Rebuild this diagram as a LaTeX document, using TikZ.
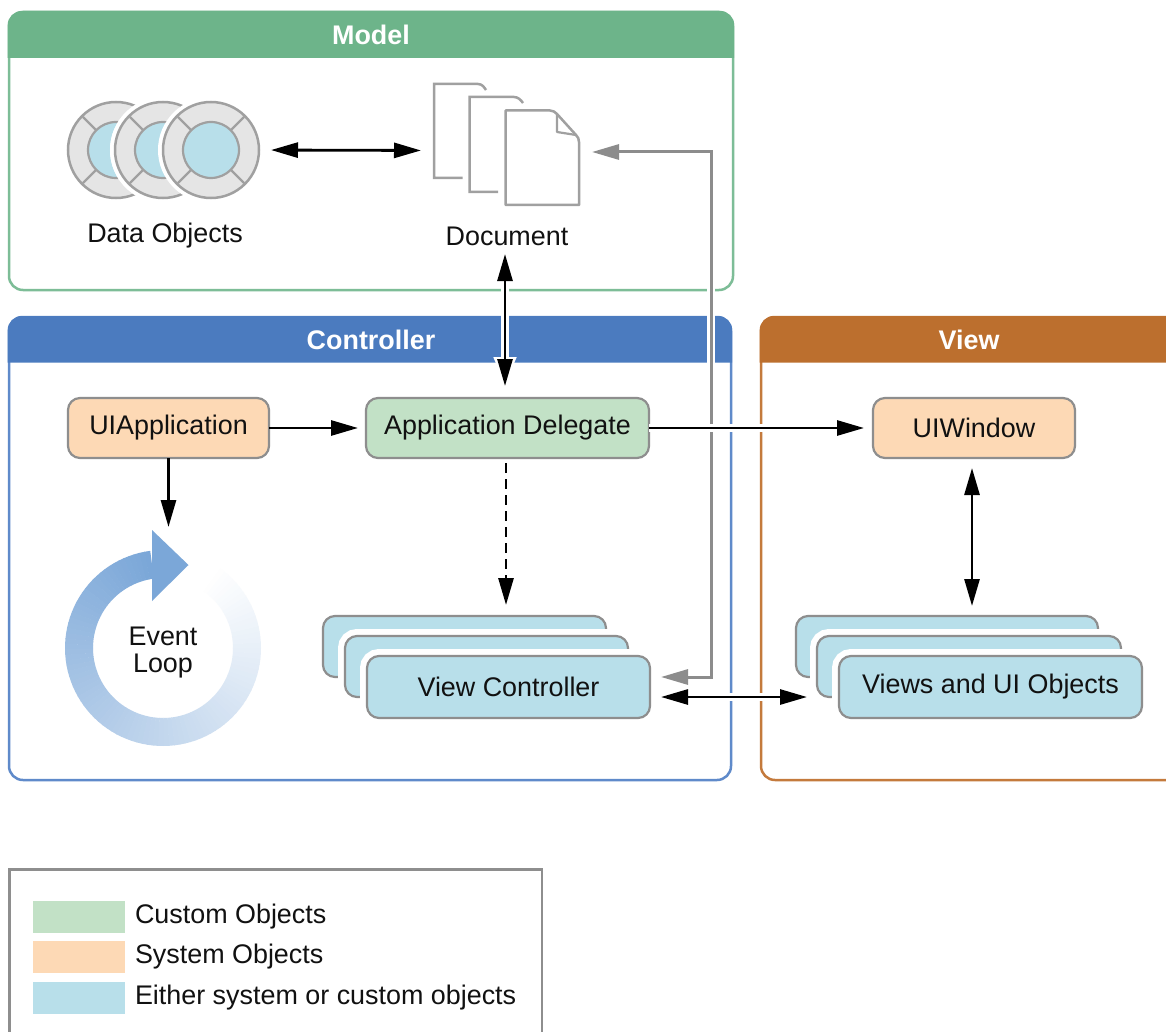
\documentclass[tikz,border=0pt]{standalone}
\usepackage{fontspec}
\setmainfont{Liberation Sans}
\usetikzlibrary{arrows.meta,calc}
\definecolor{mgreen}{HTML}{6DB48A}
\definecolor{mgreenl}{HTML}{7DBD97}
\definecolor{cblue}{HTML}{4B7BBF}
\definecolor{cbluel}{HTML}{5F8ACA}
\definecolor{vorange}{HTML}{BC6F2E}
\definecolor{vorangel}{HTML}{C47A3C}
\definecolor{sysfill}{HTML}{FDD9B5}
\definecolor{cusfill}{HTML}{C2E1C6}
\definecolor{eitfill}{HTML}{B8DFEA}
\definecolor{edgegrey}{HTML}{8E8E8E}
\definecolor{icongrey}{HTML}{A0A0A0}
\definecolor{discgrey}{HTML}{E5E5E5}
\definecolor{conngrey}{HTML}{8C8C8C}
\definecolor{ringblue}{HTML}{7BA7D8}
\definecolor{ink}{HTML}{111111}
\tikzset{
  txt/.style={font=\fontsize{26.9}{28}\selectfont,text=ink,inner sep=0pt,outer sep=0pt},
  title/.style={font=\fontsize{26.9}{28}\selectfont\bfseries,text=white,inner sep=0pt},
  obj/.style={draw=edgegrey,line width=2.2pt,rounded corners=12pt,inner sep=0pt,outer sep=0pt,
    font=\fontsize{26.9}{28}\selectfont,text=ink},
  stacked/.style={obj,fill=eitfill,preaction={draw=white,line width=14pt}},
  swatch/.style={inner sep=0pt,outer sep=0pt,minimum width=92pt,minimum height=32pt},
  panel/.style={line width=2.5pt,rounded corners=14pt},
  icon/.style={draw=icongrey,line width=2.5pt},
  disc/.style={circle,inner sep=0pt,outer sep=0pt,minimum size=96pt,draw=icongrey,fill=discgrey,line width=2.5pt,
    preaction={draw=white,line width=10pt}},
  hub/.style={circle,inner sep=0pt,minimum size=56pt,draw=icongrey,fill=eitfill,line width=2.2pt},
  conn/.style={draw=black,line width=2.8pt,-{Triangle[length=27pt,width=15pt]}},
  both/.style={draw=black,line width=2.8pt,{Triangle[length=27pt,width=15pt]}-{Triangle[length=27pt,width=15pt]}},
  halo/.style={preaction={draw=white,line width=7.5pt,arrows=-}},
  greyconn/.style={draw=conngrey,line width=3pt,{Triangle[length=27pt,width=15pt]}-{Triangle[length=27pt,width=15pt]}},
}
\begin{document}
\begin{tikzpicture}[x=1pt,y=-1pt]
\useasboundingbox (0,0) rectangle (1166,1032);
\clip (0,0) rectangle (1166,1032);
\fill[white] (0,0) rectangle (1166,1032);

% Panels
\draw[panel,draw=mgreenl] (9,12) rectangle (733,290);
\fill[mgreen] [sharp corners] (7.7,58) [rounded corners=14pt] -- (7.7,11) -- (734.2,11) [sharp corners] -- (734.2,58) -- cycle;
\node[title] (modelt) at (371,35) {Model};

\draw[panel,draw=cbluel] (9,317) rectangle (731,780);
\fill[cblue] [sharp corners] (7.7,362.5) [rounded corners=14pt] -- (7.7,316) -- (732.2,316) [sharp corners] -- (732.2,362.5) -- cycle;
\node[title] (ctrlt) at (371,340) {Controller};

\draw[panel,draw=vorangel] (761,317) rectangle (1190,780);
\fill[vorange] [sharp corners] (759.7,362.5) [rounded corners=14pt] -- (759.7,316) -- (1190,316) [sharp corners] -- (1190,362.5) -- cycle;
\node[title] (viewt) at (969,340) {View};

% Data objects
\foreach \cx/\nm in {116/dobja,163/dobjb,211/dobj}{
  \node[disc] (\nm) at (\cx,150) {};
  \foreach \ang in {45,135,225,315}
    \draw[icongrey,line width=2.2pt] ($(\cx,150)+(\ang:28pt)$) -- ($(\cx,150)+(\ang:47pt)$);
  \node[hub] at (\cx,150) {};
}
% redraw the covering discs so that each overlaps the one behind it
\begin{scope}
  \foreach \cx in {163,211}{
    \node[disc] at (\cx,150) {};
    \foreach \ang in {45,135,225,315}
      \draw[icongrey,line width=2.2pt] ($(\cx,150)+(\ang:28pt)$) -- ($(\cx,150)+(\ang:47pt)$);
    \node[hub] at (\cx,150) {};
  }
\end{scope}
\node[txt] (dobjl) at (165,236) {Data Objects};

% Document icon
\draw[icon,line cap=butt] (462.5,178) -- (434,178) -- (434,84) -- (478,84) .. controls (482,84) and (484,87) .. (486,90);
\draw[icon] (498,192) -- (469.5,192) -- (469.5,97) -- (514,97) .. controls (518,97) and (521,100) .. (523,103);
\draw[icon,fill=white,line join=round] (505.5,205) -- (505.5,110.5) -- (550,110.5) .. controls (553,110.5) and (555,112) .. (557,114)
  -- (576,135) .. controls (578,137) and (579,139) .. (579,142) -- (579,205) -- cycle;
\draw[icongrey,line width=2.2pt,line join=round] (557,114) -- (557,132) -- (576,135);
\coordinate (docicon) at (433,150.5);
\coordinate (docright) at (579,152);
\node[txt,minimum height=28pt] (docl) at (507,236) {Document};

% Objects
\node[obj,fill=sysfill,minimum width=201pt,minimum height=60pt] (uiapp) at (168.5,428) {UIApplication};
\node[obj,fill=cusfill,minimum width=283pt,minimum height=60pt] (appdel) at (507.5,428) {Application Delegate};
\node[obj,fill=sysfill,minimum width=202pt,minimum height=60pt] (uiwin) at (974,428) {UIWindow};

\node[stacked,minimum width=283pt,minimum height=61pt] (vcback) at (464.5,646.5) {};
\node[stacked,minimum width=283pt,minimum height=61pt] (vcmid) at (486.5,666.5) {};
\node[stacked,minimum width=283pt,minimum height=62pt] (vc) at (508.5,687) {View Controller};

\node[stacked,minimum width=302pt,minimum height=61pt] (vback) at (947,646.5) {};
\node[stacked,minimum width=304pt,minimum height=61pt] (vmid) at (969,666.5) {};
\node[stacked,minimum width=303pt,minimum height=62pt] (vui) at (990.5,687) {Views and UI Objects};

% Event loop
\foreach \i in {0,...,99}{
  \pgfmathsetmacro{\aa}{97.5+\i*3.2}
  \pgfmathsetmacro{\ab}{97.5+(\i+1)*3.2}
  \pgfmathsetmacro{\pc}{100-\i*1.01}
  \fill[ringblue!\pc!white]
    ({163+98*cos(\aa)},{648-98*sin(\aa)}) -- ({163+98*cos(\ab+.3)},{648-98*sin(\ab+.3)})
    -- ({163+70*cos(\ab+.3)},{648-70*sin(\ab+.3)}) -- ({163+70*cos(\aa)},{648-70*sin(\aa)}) -- cycle;
}
\fill[ringblue] (152,530) -- (188.5,565) -- (152,601) -- cycle;
\node[txt,align=center] (loop) at (163,652.5) {Event\\[-1pt]Loop};
\coordinate (looptop) at (168.5,527);

% Connectors: grey first, black above it
\coordinate (greybend) at (711,152);
\draw[greyconn,halo,shorten <=13pt,shorten >=11pt] (docright) -- (greybend) |- ([yshift=10pt]vc.east);

\draw[both,shorten <=12pt,shorten >=12pt] (dobj.east) -- (docicon);
\draw[both,shorten <=4pt,shorten >=12pt,
  preaction={draw=white,line width=7.5pt,arrows={Triangle[length=29pt,width=21pt]-Triangle[length=29pt,width=21pt]}}]
  ([xshift=-2pt]docl.south) -- ([xshift=-2.5pt]appdel.north);
\draw[conn,shorten >=8pt] (uiapp.east) -- (appdel.west);
\draw[conn,halo,shorten >=9pt] (appdel.east) -- (uiwin.west);
\draw[conn] (uiapp.south) -- (looptop);
\draw[conn,dash pattern=on 10pt off 6pt,shorten <=5pt,shorten >=11pt]
  ([xshift=-1.5pt]appdel.south) -- ([xshift=-1.5pt]appdel.south |- vcback.north);
\draw[both,shorten <=10pt,shorten >=10pt] ([xshift=-2pt]uiwin.south) -- ([xshift=-2pt]uiwin.south |- vback.north);
\draw[both,halo,shorten <=11pt,shorten >=10pt] ([yshift=-10pt]vc.east) -- ([yshift=-10pt]vc.east -| vmid.west);

% Legend
\draw[edgegrey,line width=2.2pt] (9.5,1045) -- (9.5,869.5) -- (542,869.5) -- (542,1045);
\node[swatch,fill=cusfill] (sw1) at (79,916.5) {};
\node[swatch,fill=sysfill] (sw2) at (79,957) {};
\node[swatch,fill=eitfill] (sw3) at (79,998) {};
\node[txt,anchor=west] (lg1) at (135,916.5) {Custom Objects};
\node[txt,anchor=west] (lg2) at (135,957) {System Objects};
\node[txt,anchor=west] (lg3) at (135,998) {Either system or custom objects};
\end{tikzpicture}
\end{document}
